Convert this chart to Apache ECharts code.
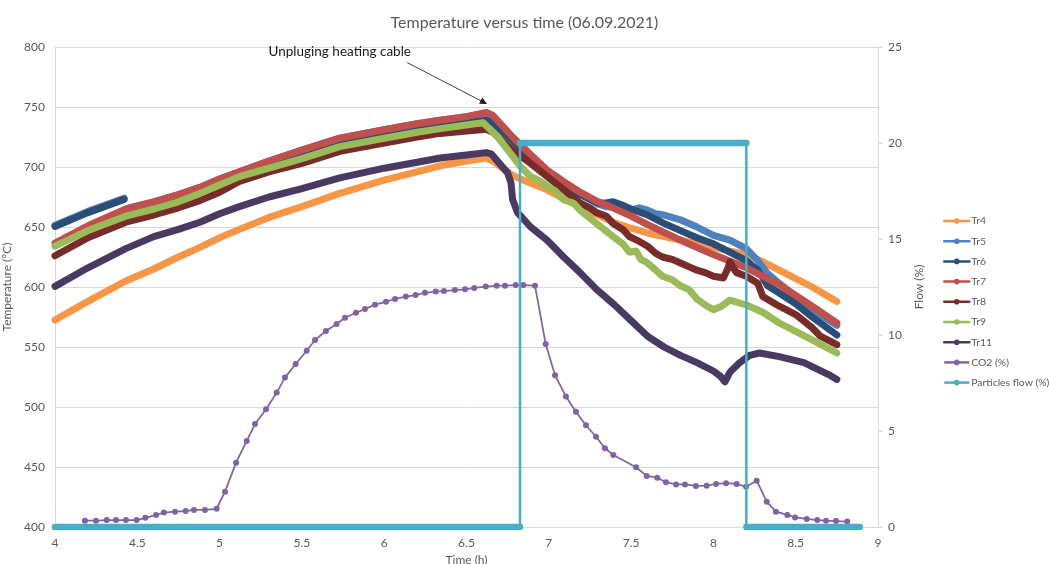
<!DOCTYPE html>
<html>
<head>
<meta charset="utf-8">
<script src="https://cdn.jsdelivr.net/npm/echarts@6/dist/echarts.min.js"></script>
<style>
  html, body { margin: 0; padding: 0; background: #ffffff; }
  #chart { width: 1049px; height: 564px; }
</style>
</head>
<body>
<div id="chart"></div>
<script>
// Temperature readings [time (h), °C]
const tr4 = [[4.0,572.5],[4.2,588],[4.43,605],[4.6,615],[4.75,625],[4.88,633],[5.0,641],[5.12,648],[5.3,658],[5.5,667],[5.73,678],[6.0,689],[6.2,696],[6.34,701],[6.5,705],[6.62,707.5],
  [6.66,705],[6.78,693],[6.83,690],[6.9,686],[6.99,681],[7.1,673],[7.19,667],[7.3,660],[7.39,654],[7.5,649],[7.6,645],[7.8,639],[8.0,633],[8.2,627],[8.3,621],[8.4,614],[8.6,600],[8.75,588]];

const tr5 = [[4.0,651.5],[4.2,663],[4.42,674],[4.435,'-'],[4.45,666],[4.6,671],[4.75,677],[4.88,683],[5.0,690],[5.12,696],[5.3,705],[5.5,714],[5.73,724],[6.0,731],[6.2,736],[6.34,739],[6.5,742],[6.62,745],
  [6.66,742.5],[6.78,724.5],[6.9,708.5],[6.99,697],[7.1,686.5],[7.19,678.5],[7.25,673],[7.3,669],[7.35,667],[7.4,666],[7.45,668],[7.5,664],[7.55,666],[7.6,664],[7.65,661],[7.7,660],[7.8,656],[7.9,650],[8.0,643],[8.1,639],[8.2,632],[8.27,622],[8.33,611],[8.4,603],[8.5,592],[8.6,581],[8.75,568]];

const tr6 = [[4.0,650.5],[4.2,662],[4.42,673],[4.435,'-'],[4.45,661.5],[4.6,667],[4.75,673],[4.88,680],[5.0,687],[5.12,694],[5.3,701],[5.5,709],[5.73,719],[6.0,726],[6.2,731],[6.34,734],[6.5,737],[6.62,739],
  [6.66,737],[6.78,722],[6.9,707],[6.99,695.5],[7.1,686],[7.19,677],[7.3,670],[7.35,670],[7.39,671],[7.45,668],[7.5,665],[7.6,660],[7.7,653],[7.8,647],[7.9,641],[8.0,636],[8.1,629],[8.2,622],[8.27,614],[8.33,601],[8.4,595],[8.5,586],[8.6,575],[8.75,560]];

const tr7 = [[4.0,636.5],[4.2,651],[4.43,665],[4.6,671],[4.75,677],[4.88,683],[5.0,690],[5.12,696],[5.3,705],[5.5,714],[5.73,724],[6.0,731],[6.2,736],[6.34,739],[6.5,742],[6.62,745.5],
  [6.66,743],[6.78,725],[6.9,709],[6.99,697.5],[7.1,687],[7.19,679],[7.3,671],[7.39,666],[7.5,659],[7.6,652],[7.8,639],[8.0,627],[8.2,616],[8.4,602],[8.6,584],[8.75,570]];

const tr8 = [[4.0,626],[4.2,641],[4.43,654],[4.6,660],[4.75,666],[4.88,672],[5.0,679],[5.12,688],[5.3,696],[5.5,703],[5.73,713],[6.0,720],[6.2,725],[6.34,728],[6.5,730],[6.62,731.5],
  [6.66,729],[6.78,714],[6.89,703],[6.99,692],[7.09,681],[7.19,670],[7.25,666],[7.29,662],[7.35,659],[7.39,653],[7.45,648],[7.49,642],[7.55,638],[7.6,634],[7.65,628],[7.69,625],[7.75,623],[7.8,620],[7.85,617],[7.9,614],[7.95,612],[8.0,609],[8.06,607.5],[8.09,616],[8.1,621],[8.12,616],[8.14,612],[8.2,609],[8.27,603],[8.3,592],[8.4,584],[8.5,577],[8.6,566],[8.65,559],[8.75,552]];

const tr9 = [[4.0,634],[4.2,647],[4.43,659],[4.6,665],[4.75,671],[4.88,678],[5.0,685],[5.12,692],[5.3,699],[5.5,707],[5.73,717],[6.0,724],[6.2,729],[6.34,732],[6.5,735],[6.6,737],
  [6.69,725],[6.78,709],[6.83,700],[6.89,692],[6.95,688],[6.99,684],[7.04,680],[7.09,672.5],[7.15,670],[7.19,664],[7.29,653],[7.39,642],[7.45,636],[7.49,629],[7.53,630],[7.56,623],[7.6,620],[7.65,614],[7.69,609],[7.75,606],[7.8,601],[7.85,598],[7.9,590],[7.95,585],[8.0,581],[8.05,584],[8.1,589],[8.2,585],[8.3,579],[8.4,570],[8.5,563],[8.6,556],[8.75,545]];

const tr11 = [[4.0,600.5],[4.2,616],[4.43,632],[4.6,642],[4.75,648],[4.88,654],[5.0,661],[5.12,667],[5.3,675],[5.5,682],[5.73,691],[6.0,699],[6.2,704],[6.34,707.5],[6.5,710],[6.62,712],
  [6.65,711],[6.7,703],[6.75,695],[6.77,687],[6.78,673],[6.81,662],[6.89,650],[6.99,639],[7.09,625],[7.19,612],[7.29,598],[7.4,585],[7.5,572],[7.6,559],[7.7,550],[7.8,543],[7.9,537],[8.0,530],[8.04,526],[8.07,521],[8.1,529],[8.16,537],[8.22,543],[8.28,545],[8.4,542],[8.55,537],[8.7,527],[8.75,523]];

// Gas composition and flow [time (h), %]
const co2 = [[4.182,0.33],[4.249,0.33],[4.314,0.36],[4.371,0.36],[4.431,0.36],[4.496,0.36],[4.549,0.48],[4.614,0.63],[4.662,0.75],[4.729,0.80],[4.794,0.83],[4.844,0.89],[4.911,0.89],[4.982,0.95],
  [5.033,1.84],[5.100,3.35],[5.165,4.48],[5.215,5.36],[5.282,6.13],[5.347,7.0],[5.397,7.78],[5.462,8.49],[5.529,9.18],[5.580,9.74],[5.646,10.21],[5.711,10.57],[5.762,10.9],[5.829,11.16],[5.883,11.35],[5.944,11.58],
  [6.011,11.73],[6.066,11.88],[6.132,12.0],[6.191,12.08],[6.248,12.2],[6.313,12.26],[6.363,12.29],[6.430,12.34],[6.491,12.38],[6.547,12.45],[6.617,12.52],[6.683,12.57],[6.734,12.57],[6.799,12.6],[6.845,12.6],[6.916,12.57],
  [6.981,9.53],[7.038,7.9],[7.104,6.8],[7.165,6.0],[7.226,5.3],[7.287,4.7],[7.341,4.1],[7.392,3.75],[7.530,3.11],[7.595,2.66],[7.659,2.57],[7.712,2.33],[7.773,2.22],[7.827,2.22],[7.894,2.14],[7.959,2.15],
  [8.016,2.24],[8.077,2.28],[8.141,2.24],[8.198,2.1],[8.263,2.41],[8.324,1.32],[8.380,0.8],[8.449,0.63],[8.496,0.5],[8.567,0.42],[8.631,0.36],[8.684,0.33],[8.745,0.31],[8.813,0.28]];

const particlesFlow = [[4.0,0],[6.825,0],[6.825,20],[8.2,20],[8.2,0],[8.89,0]];

// Axis ranges and text
const timeTicks = { min: 4, max: 9, step: 0.5 };
const tempTicks = { min: 400, max: 800, step: 50 };
const flowTicks = { min: 0, max: 25, step: 5 };
const titleText = 'Temperature versus time (06.09.2021)';
const noteText = 'Unpluging heating cable';
const noteLabelAt = [5.73, 796];
const noteArrow = [[6.14, 787], [6.625, 752.5]];

const FONT = 'Lato, "Open Sans", sans-serif';
const GREY = '#595959';

// Horizontal runs of a step series, split where the value changes
function flatRuns(points) {
  const out = [];
  for (let i = 1; i < points.length; i++) {
    if (points[i][1] === points[i - 1][1]) {
      if (out.length) out.push([(points[i - 1][0] + points[i][0]) / 2, '-']);
      out.push(points[i - 1], points[i]);
    }
  }
  return out;
}

function tempSeries(name, data, color) {
  return {
    name, type: 'line', data, yAxisIndex: 0,
    symbol: 'circle', showSymbol: false, symbolSize: 6,
    connectNulls: false,
    itemStyle: { color },
    lineStyle: { color, width: 7, cap: 'round', join: 'round' },
    emphasis: { disabled: true },
    z: 2
  };
}

const chart = echarts.init(document.getElementById('chart'), null, { renderer: 'canvas' });

const option = {
  animation: false,
  backgroundColor: '#ffffff',
  textStyle: { fontFamily: FONT },
  title: {
    text: titleText, left: 'center', top: 10,
    textStyle: { fontFamily: FONT, fontSize: 16, fontWeight: 'normal', color: GREY }
  },
  grid: { left: 55, right: 171, top: 47, bottom: 37, containLabel: false, outerBoundsMode: 'none' },
  legend: {
    orient: 'vertical', left: 938, top: 211,
    itemWidth: 25, itemHeight: 7, itemGap: 10.2,
    textStyle: { fontFamily: FONT, fontSize: 10.4, color: GREY, overflow: 'none', padding: [0, 0, 0, -3] },
    lineStyle: { width: 2.5 },
    data: ['Tr4', 'Tr5', 'Tr6', 'Tr7', 'Tr8', 'Tr9', 'Tr11', 'CO2 (%)', 'Particles flow (%)']
  },
  xAxis: {
    type: 'value', min: timeTicks.min, max: timeTicks.max, interval: timeTicks.step,
    name: 'Time (h)', nameLocation: 'middle', nameGap: 27,
    nameTextStyle: { fontFamily: FONT, fontSize: 12, color: GREY },
    axisLine: { show: true, onZero: false, lineStyle: { color: '#d9d9d9', width: 1 } },
    axisTick: { show: false },
    axisLabel: { color: GREY, fontSize: 12, fontFamily: FONT, margin: 10 },
    splitLine: { show: false }
  },
  yAxis: [
    {
      type: 'value', min: tempTicks.min, max: tempTicks.max, interval: tempTicks.step,
      name: 'Temperature (°C)', nameLocation: 'middle', nameGap: 33, nameRotate: 90,
      nameTextStyle: { fontFamily: FONT, fontSize: 12, color: GREY },
      axisLine: { show: true, lineStyle: { color: '#d9d9d9', width: 1 } },
      axisTick: { show: false },
      axisLabel: { color: GREY, fontSize: 12, fontFamily: FONT, margin: 10 },
      splitLine: { show: true, lineStyle: { color: '#d9d9d9', width: 1 } }
    },
    {
      type: 'value', position: 'right', min: flowTicks.min, max: flowTicks.max, interval: flowTicks.step,
      name: 'Flow (%)', nameLocation: 'middle', nameGap: 30, nameRotate: 90,
      nameTextStyle: { fontFamily: FONT, fontSize: 12, color: GREY },
      axisLine: { show: true, lineStyle: { color: '#d9d9d9', width: 1 } },
      axisTick: { show: true, length: 5, lineStyle: { color: '#d9d9d9' } },
      axisLabel: { color: GREY, fontSize: 12, fontFamily: FONT, margin: 10 },
      splitLine: { show: false }
    }
  ],
  series: [
    tempSeries('Tr4', tr4, '#F79646'),
    tempSeries('Tr5', tr5, '#4F81BD'),
    tempSeries('Tr6', tr6, '#2C4D75'),
    tempSeries('Tr7', tr7, '#C0504D'),
    tempSeries('Tr8', tr8, '#772C2A'),
    tempSeries('Tr9', tr9, '#9BBB59'),
    tempSeries('Tr11', tr11, '#4A3A62'),
    {
      name: 'CO2 (%)', type: 'line', data: co2, yAxisIndex: 1,
      symbol: 'circle', symbolSize: 6, showSymbol: true,
      itemStyle: { color: '#8064A2' },
      lineStyle: { color: '#8064A2', width: 1.75 },
      emphasis: { disabled: true },
      z: 3
    },
    {
      name: 'Particles flow (%)', type: 'line', data: particlesFlow, yAxisIndex: 1,
      symbol: 'circle', symbolSize: 6, showSymbol: false,
      itemStyle: { color: '#4BACC6' },
      lineStyle: { color: '#4BACC6', width: 2.5 },
      emphasis: { disabled: true },
      z: 4
    },
    {
      name: 'Particles flow (%)', type: 'line', data: flatRuns(particlesFlow), yAxisIndex: 1,
      symbol: 'none', connectNulls: false,
      lineStyle: { color: '#4BACC6', width: 6.5, cap: 'round' },
      emphasis: { disabled: true },
      z: 4
    }
  ]
};

chart.setOption(option);

// Annotation: label and arrow placed in data coordinates
const toPx = p => chart.convertToPixel({ xAxisIndex: 0, yAxisIndex: 0 }, p);
const labelPx = toPx(noteLabelAt);
const a0 = toPx(noteArrow[0]);
const a1 = toPx(noteArrow[1]);
const ang = Math.atan2(a1[1] - a0[1], a1[0] - a0[0]);
const head = 8, spread = 0.45;
chart.setOption({
  graphic: [
    {
      type: 'text', x: labelPx[0], y: labelPx[1], z: 10,
      style: { text: noteText, fill: '#1a1a1a', font: '13.5px ' + FONT, textAlign: 'center', textVerticalAlign: 'middle' }
    },
    {
      type: 'line', z: 10,
      shape: { x1: a0[0], y1: a0[1], x2: a1[0] - Math.cos(ang) * head * 0.8, y2: a1[1] - Math.sin(ang) * head * 0.8 },
      style: { stroke: '#404040', lineWidth: 1 }
    },
    {
      type: 'polygon', z: 10,
      shape: { points: [
        [a1[0], a1[1]],
        [a1[0] - Math.cos(ang - spread) * head, a1[1] - Math.sin(ang - spread) * head],
        [a1[0] - Math.cos(ang + spread) * head, a1[1] - Math.sin(ang + spread) * head]
      ] },
      style: { fill: '#1a1a1a' }
    }
  ]
});
</script>
</body>
</html>
